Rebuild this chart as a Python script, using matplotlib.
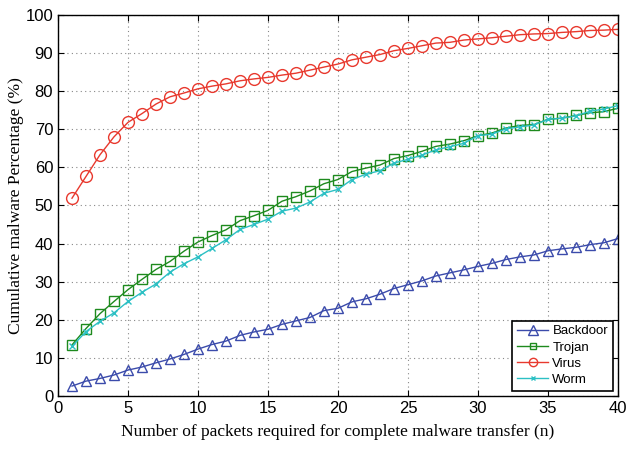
import matplotlib
matplotlib.use("Agg")
import matplotlib.pyplot as plt
from matplotlib.lines import Line2D

packets = list(range(1, 41))

backdoor = [2.6, 3.9, 4.6, 5.5, 6.8, 7.6, 8.7, 9.7, 10.9, 12.3,
            13.5, 14.4, 15.9, 16.8, 17.5, 18.8, 19.7, 20.6, 22.4, 23.0,
            24.7, 25.5, 26.7, 28.2, 29.2, 30.2, 31.5, 32.3, 33.1, 34.0,
            34.8, 35.8, 36.5, 37.0, 38.1, 38.6, 39.0, 39.7, 40.2, 41.3]
trojan = [13.4, 17.7, 21.6, 24.8, 27.9, 30.6, 33.2, 35.3, 38.0, 40.4,
          42.1, 43.6, 46.0, 47.3, 48.7, 51.1, 52.3, 53.8, 55.7, 56.8,
          58.9, 59.8, 60.6, 62.3, 63.1, 64.2, 65.5, 66.1, 67.0, 68.3,
          69.0, 70.3, 71.0, 71.2, 72.6, 72.9, 73.6, 74.3, 74.6, 75.5]
virus = [51.9, 57.6, 63.3, 68.0, 71.8, 74.1, 76.6, 78.5, 79.5, 80.6,
         81.3, 81.9, 82.7, 83.2, 83.6, 84.2, 84.7, 85.5, 86.3, 87.1,
         88.2, 88.9, 89.6, 90.6, 91.2, 91.9, 92.6, 92.8, 93.4, 93.7,
         94.0, 94.4, 94.8, 95.0, 95.1, 95.4, 95.6, 95.9, 96.0, 96.2]
worm = [13.0, 16.9, 19.6, 21.8, 24.8, 27.2, 29.4, 32.5, 34.7, 36.5,
        38.7, 41.0, 43.7, 45.0, 46.4, 48.5, 49.3, 50.9, 53.2, 54.2,
        56.8, 58.2, 59.1, 61.1, 62.1, 63.2, 64.6, 65.4, 66.3, 68.3,
        68.7, 70.1, 70.6, 71.1, 72.6, 72.9, 73.5, 74.7, 75.3, 76.2]

labels = ["Backdoor", "Trojan", "Virus", "Worm"]
colors = ["#3b4bab", "#1e8a1e", "#e8392e", "#2cc0c4"]

plt.rcParams["font.family"] = ["Liberation Sans", "DejaVu Sans"]

fig = plt.figure(figsize=(6.27, 4.51), dpi=100)
ax = fig.add_axes([0.0925, 0.122, 0.893, 0.845])

lw = 1.0
ax.plot(packets, backdoor, color=colors[0], lw=lw, marker="^", ms=7.5,
        mfc="none", mec=colors[0], mew=1.0)
ax.plot(packets, trojan, color=colors[1], lw=lw, marker="s", ms=6.5,
        mfc="none", mec=colors[1], mew=1.0)
ax.plot(packets, virus, color=colors[2], lw=lw, marker="o", ms=8.5,
        mfc="none", mec=colors[2], mew=1.0)
ax.plot(packets, worm, color=colors[3], lw=lw, marker="x", ms=4,
        mec=colors[3], mew=1.0)

ax.set_xlim(0, 40)
ax.set_ylim(0, 100)
ax.set_xticks(range(0, 41, 5))
ax.set_yticks(range(0, 101, 10))
ax.grid(True, linestyle=(0, (1, 3)), color="#888888", linewidth=0.8)
ax.tick_params(direction="in", top=True, right=True, labelsize=12,
               length=4, width=0.8)
for s in ax.spines.values():
    s.set_linewidth(1.0)

ax.set_xlabel("Number of packets required for complete malware transfer (n)",
              family="Liberation Serif", fontsize=12.5, labelpad=6)
ax.set_ylabel("Cumulative malware Percentage (%)",
              family="Liberation Serif", fontsize=12.5, labelpad=1)

handles = [
    Line2D([], [], color=colors[0], lw=lw, marker="^", ms=7.5, mfc="none",
           mec=colors[0]),
    Line2D([], [], color=colors[1], lw=lw, marker="s", ms=4.5, mfc="none",
           mec=colors[1]),
    Line2D([], [], color=colors[2], lw=lw, marker="o", ms=6, mfc="none",
           mec=colors[2]),
    Line2D([], [], color=colors[3], lw=lw, marker="x", ms=3.5,
           mec=colors[3]),
]
leg = ax.legend(handles, labels, loc="lower right", fontsize=9.5,
                fancybox=False, framealpha=1, edgecolor="black",
                handlelength=2.4, borderaxespad=0.4, labelspacing=0.3,
                handletextpad=0.3, borderpad=0.35)
leg.get_frame().set_linewidth(1.2)

fig.savefig("out.png", dpi=100)
